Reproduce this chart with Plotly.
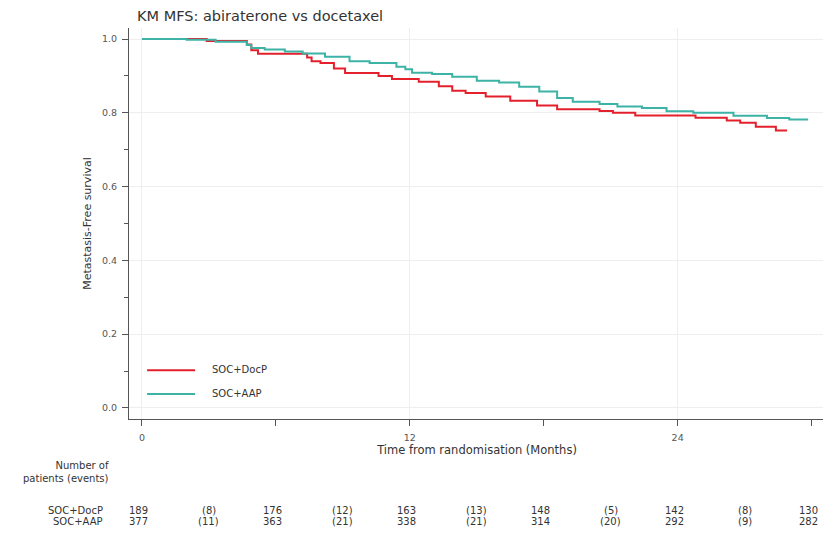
import plotly.graph_objects as go

# Curvas de Kaplan-Meier (meses, supervivencia)
docp_t = [0, 2.9, 4.7, 4.9, 5.2, 7.4, 7.6, 8.0, 8.6, 9.1, 10.6, 11.2, 12.4, 13.3, 13.9,
          14.5, 15.4, 16.5, 17.7, 18.6, 20.5, 21.1, 22.1, 24.8, 26.2, 26.8, 27.5, 28.4, 28.9]
docp_s = [1.0, 0.995, 0.985, 0.97, 0.96, 0.95, 0.94, 0.935, 0.92, 0.908, 0.9, 0.892, 0.884, 0.872, 0.86,
          0.854, 0.844, 0.833, 0.82, 0.81, 0.805, 0.8, 0.793, 0.787, 0.779, 0.773, 0.762, 0.752, 0.752]

aap_t = [0, 2.0, 3.3, 4.7, 4.9, 5.5, 6.4, 7.2, 8.2, 9.3, 10.2, 11.4, 11.8, 12.1, 13.0, 13.9,
         15.0, 16.0, 16.9, 17.8, 18.6, 19.3, 20.5, 21.3, 22.4, 23.5, 24.7, 26.5, 28.0, 29.0, 29.8]
aap_s = [1.0, 0.998, 0.993, 0.984, 0.976, 0.972, 0.966, 0.961, 0.952, 0.94, 0.935, 0.925, 0.918, 0.909,
         0.905, 0.898, 0.887, 0.882, 0.871, 0.858, 0.84, 0.83, 0.824, 0.817, 0.813, 0.804, 0.8, 0.792,
         0.786, 0.782, 0.779]

# Tabla de pacientes en riesgo
meses_riesgo = [0, 6, 12, 18, 24, 30]
meses_eventos = [3, 9, 15, 21, 27]
docp_n = [189, 176, 163, 148, 142, 130]
docp_eventos = [8, 12, 13, 5, 8]
aap_n = [377, 363, 338, 314, 292, 282]
aap_eventos = [11, 21, 21, 20, 9]

grupos = ["SOC+DocP", "SOC+AAP"]

rojo = "#e3202c"
verde = "#3db3a6"
gris = "#555555"
texto = "#333333"
fuente = "DejaVu Sans, Verdana, sans-serif"

fig = go.Figure()
fig.add_trace(go.Scatter(x=docp_t, y=docp_s, mode="lines", line=dict(color=rojo, width=2, shape="hv"),
                         name=grupos[0], showlegend=False))
fig.add_trace(go.Scatter(x=aap_t, y=aap_s, mode="lines", line=dict(color=verde, width=2, shape="hv"),
                         name=grupos[1], showlegend=False))

# Leyenda dibujada a mano (lineas mas largas que las de plotly)
for color, nombre, y_linea, y_texto in [(rojo, grupos[0], 0.125, 0.107), (verde, grupos[1], 0.064, 0.046)]:
    fig.add_shape(type="line", xref="paper", yref="paper", x0=0.026, x1=0.095, y0=y_linea, y1=y_linea,
                  line=dict(color=color, width=2))
    fig.add_annotation(x=0.116, y=y_texto, xref="paper", yref="paper", text=nombre, xanchor="left",
                       showarrow=False)

# Tabla debajo del eje
y_docp = -0.253
y_aap = -0.282
for i, m in enumerate(meses_riesgo):
    fig.add_annotation(x=m - 0.15, y=y_docp, xref="x", yref="paper", text=str(docp_n[i]), showarrow=False)
    fig.add_annotation(x=m - 0.15, y=y_aap, xref="x", yref="paper", text=str(aap_n[i]), showarrow=False)
for i, m in enumerate(meses_eventos):
    fig.add_annotation(x=m, y=y_docp, xref="x", yref="paper", text="(%d)" % docp_eventos[i], showarrow=False)
    fig.add_annotation(x=m, y=y_aap, xref="x", yref="paper", text="(%d)" % aap_eventos[i], showarrow=False)

fig.add_annotation(x=-0.034, y=y_docp, xref="paper", yref="paper", text=grupos[0],
                   xanchor="right", showarrow=False)
fig.add_annotation(x=-0.034, y=y_aap, xref="paper", yref="paper", text=grupos[1],
                   xanchor="right", showarrow=False)
fig.add_annotation(x=-0.026, y=-0.171, xref="paper", yref="paper", text="Number of<br>patients (events)",
                   xanchor="right", align="right", showarrow=False)

fig.update_annotations(font=dict(family=fuente, size=10, color=texto))

fig.update_layout(
    width=823, height=526,
    margin=dict(l=121, r=6, t=20, b=115),
    plot_bgcolor="white", paper_bgcolor="white",
    font=dict(family=fuente, size=9.5, color=gris),
    showlegend=False,
    title=dict(text="KM MFS: abiraterone vs docetaxel", x=129 / 823, xanchor="left", xref="container",
               y=1 - 8 / 526, yanchor="middle", pad=dict(t=0, b=0), font=dict(size=14.5, color=texto)),
    xaxis=dict(range=[-0.58, 30.6], tickvals=[0, 12, 24], ticks="outside", ticklen=6, tickcolor=gris,
               ticklabelstandoff=4,
               minor=dict(tickvals=[6, 18, 30], ticks="outside", ticklen=6, tickcolor=gris, showgrid=False),
               showline=True, linecolor=gris, linewidth=1, showgrid=True, gridcolor="#eeeeee",
               zeroline=False, title=dict(text="Time from randomisation (Months)", standoff=3,
                                          font=dict(size=11.5, color=texto))),
    yaxis=dict(range=[-0.03, 1.03], dtick=0.2, tickformat=".1f", ticks="outside", ticklen=6, tickcolor=gris,
               ticklabelstandoff=3,
               minor=dict(dtick=0.1, ticks="outside", ticklen=4, tickcolor=gris, showgrid=False),
               showline=True, linecolor=gris, linewidth=1, showgrid=True, gridcolor="#eeeeee",
               zeroline=False, title=dict(text="Metastasis-Free survival", standoff=8,
                                          font=dict(size=11, color=texto))),
)

fig.write_html("out.html")
